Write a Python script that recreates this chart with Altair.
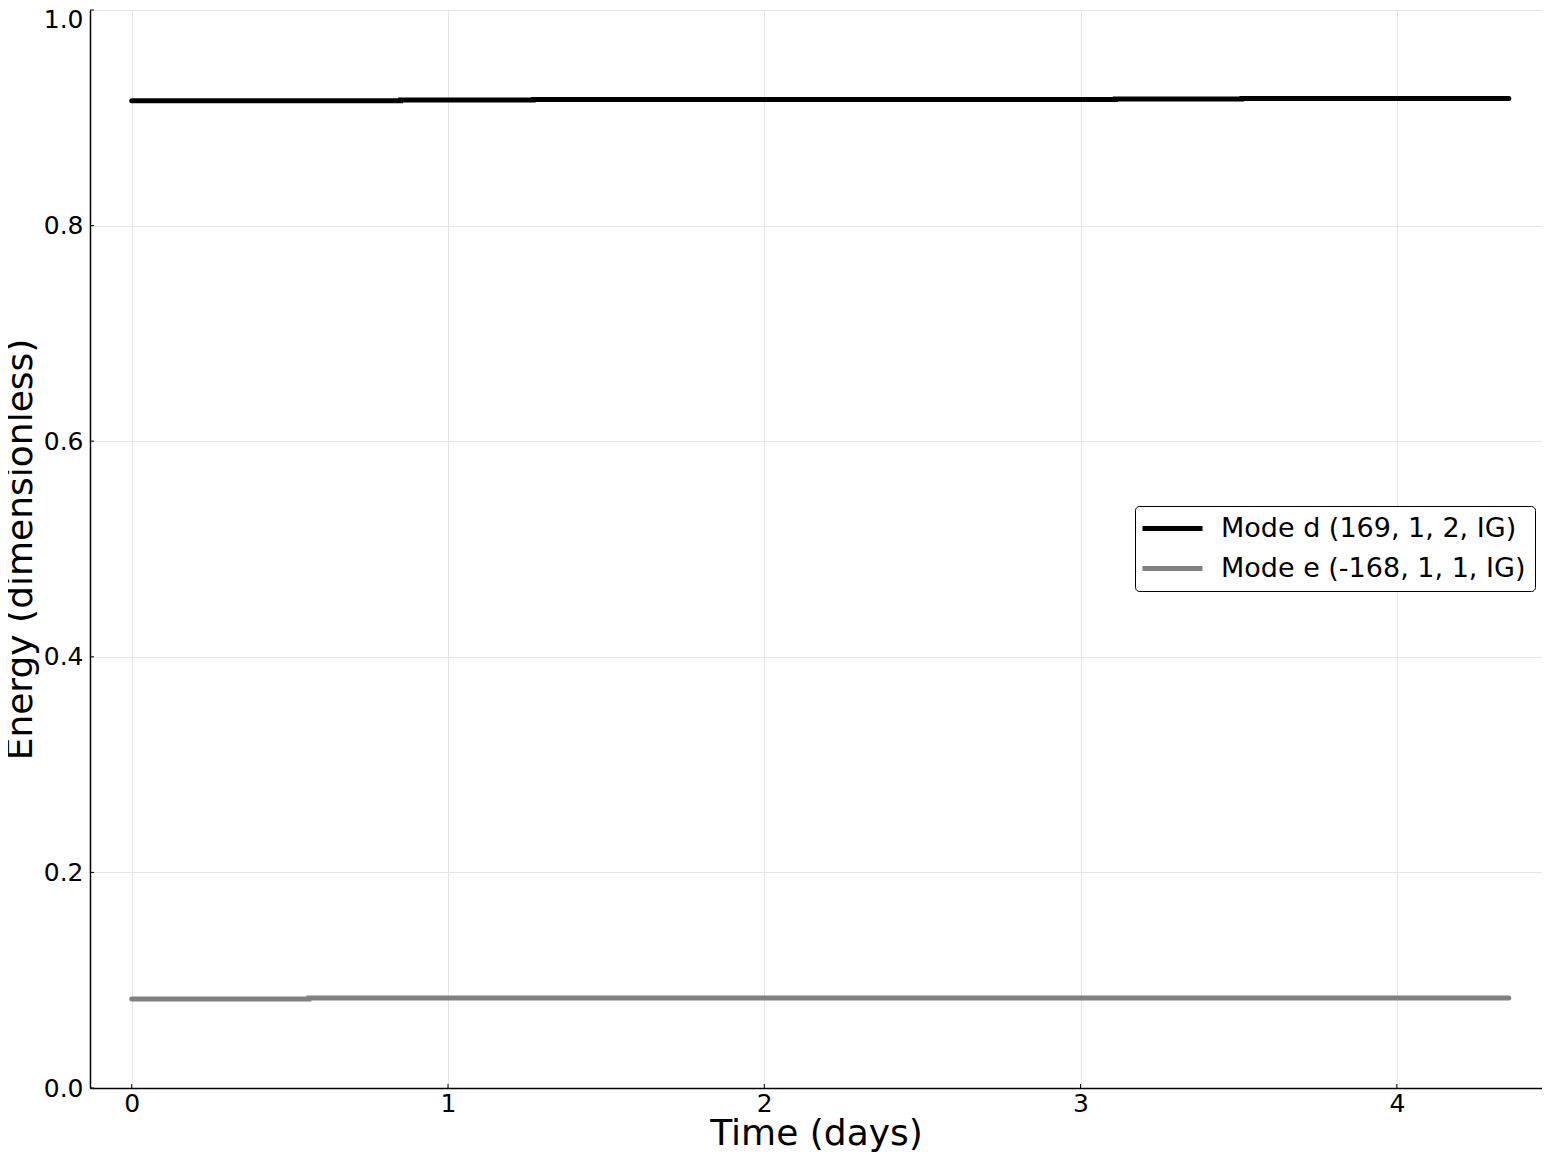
import altair as alt
import pandas as pd

# Mode d: energy (step changes over time)
d_label = "Mode d (169, 1, 2, IG)"
d_time = [0.0, 0.85, 1.27, 3.11, 3.51, 4.354]
d_energy = [0.9158, 0.9165, 0.9170, 0.9175, 0.9180, 0.9180]

# Mode e
e_label = "Mode e (-168, 1, 1, IG)"
e_time = [0.0, 0.56, 4.354]
e_energy = [0.0826, 0.0834, 0.0834]

x_ticks = [0, 1, 2, 3, 4]
y_ticks = [0.0, 0.2, 0.4, 0.6, 0.8, 1.0]

rows = []
for t, v in zip(d_time, d_energy):
    rows.append({"t": t, "E": v, "mode": d_label})
for t, v in zip(e_time, e_energy):
    rows.append({"t": t, "E": v, "mode": e_label})
df = pd.DataFrame(rows)

W, H = 1452, 1078
FONT = "DejaVu Sans"

xscale = alt.Scale(domain=[-0.132, 4.459], nice=False, zero=False)
yscale = alt.Scale(domain=[0, 1], nice=False)

lines = alt.Chart(df).mark_line(strokeWidth=5, interpolate="step-after", strokeCap="round").encode(
    x=alt.X("t:Q", scale=xscale, title="Time (days)",
            axis=alt.Axis(values=x_ticks, format="d", ticks=False, grid=True,
                          labelFontSize=25, titleFontSize=36, labelPadding=3,
                          titlePadding=0, titleFontWeight="normal")),
    y=alt.Y("E:Q", scale=yscale, title="Energy (dimensionless)",
            axis=alt.Axis(values=y_ticks, format=".1f", ticks=False, grid=True,
                          labelFontSize=25, titleFontSize=36, labelPadding=7,
                          labelOffset={"condition": {"test": "datum.value == 1", "value": 9}, "value": 0},
                          titlePadding=4, titleFontWeight="normal")),
    color=alt.Color("mode:N",
                    scale=alt.Scale(domain=[d_label, e_label], range=["#000000", "#808080"]),
                    legend=alt.Legend(title=None, orient="none", legendX=1045, legendY=496,
                                      symbolType="M-1.5,0H4.5", symbolSize=400, symbolStrokeWidth=5,
                                      labelFontSize=27, labelOffset=50, rowPadding=12,
                                      padding=9, strokeColor="#000000", cornerRadius=4,
                                      fillColor="white", labelLimit=500)),
)

xt = alt.Chart(pd.DataFrame({"t": x_ticks})).mark_rule(color="black", strokeWidth=1).encode(
    x=alt.X("t:Q", scale=xscale), y=alt.value(H), y2=alt.value(H - 4))
yt = alt.Chart(pd.DataFrame({"v": y_ticks})).mark_rule(color="black", strokeWidth=1).encode(
    y=alt.Y("v:Q", scale=yscale), x=alt.value(0), x2=alt.value(4))

chart = alt.layer(lines, xt, yt).properties(
    width=W, height=H,
    autosize=alt.AutoSizeParams(type="none"),
    padding={"left": 82, "top": 2, "right": 0, "bottom": 66},
).configure(font=FONT).configure_view(stroke=None).configure_axis(
    domainColor="black", domainWidth=1.5, gridColor="#e5e5e5", gridWidth=1,
    labelColor="black", titleColor="black", labelFont=FONT, titleFont=FONT,
).configure_legend(labelFont=FONT, labelColor="black")

chart.save("out.html", embed_options={"renderer": "svg", "actions": False})
